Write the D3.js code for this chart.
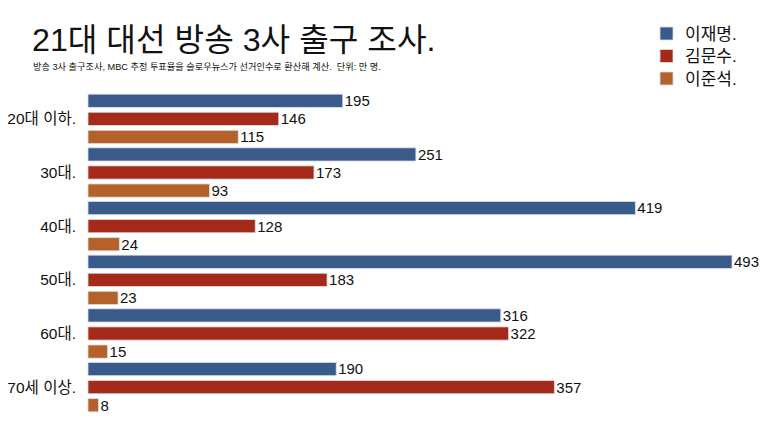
<!DOCTYPE html>
<html><head><meta charset="utf-8">
<script src="https://cdn.jsdelivr.net/npm/d3@7"></script>
<style>
body{margin:0;background:#fff;}
svg text{font-family:"Liberation Sans","Noto Sans CJK KR",sans-serif;fill:#111;white-space:pre;}
</style></head>
<body><svg id="c" width="768" height="432"></svg>
<script>
const categories = ["20대 이하.", "30대.", "40대.", "50대.", "60대.", "70세 이상."];
const seriesNames = ["이재명.", "김문수.", "이준석."];
const leeJaeMyung = [195, 251, 419, 493, 316, 190];
const kimMoonSoo = [146, 173, 128, 183, 322, 357];
const leeJunSeok = [115, 93, 24, 23, 15, 8];
const colors = ["#3a5a8c", "#a52a1a", "#b5622a"];
const title = "21대 대선 방송 3사 출구 조사.";
const subtitle = "방송 3사 출구조사, MBC 추정 투표율을 슬로우뉴스가 선거인수로 환산해 계산.  단위: 만 명.";

const series = [leeJaeMyung, kimMoonSoo, leeJunSeok];
const svg = d3.select("#c");

svg.append("text").attr("x", 32).attr("y", 51).attr("font-size", 32.2).text(title);
svg.append("text").attr("x", 33).attr("y", 70).attr("font-size", 9.2).text(subtitle);

const x = d3.scaleLinear().domain([0, 493]).range([88, 732]);
const y0 = d3.scaleBand().domain(categories).range([92, 414]).paddingInner(0.0).paddingOuter(0);
const y1 = d3.scaleBand().domain(seriesNames).range([0, y0.bandwidth()]).paddingInner(0.27).paddingOuter(0.12);

const g = svg.append("g");
categories.forEach((c, i) => {
  const gg = g.append("g").attr("transform", `translate(0,${y0(c)})`);
  seriesNames.forEach((s, j) => {
    const v = series[j][i];
    gg.append("rect")
      .attr("x", x(0)).attr("y", y1(s))
      .attr("width", x(v) - x(0)).attr("height", y1.bandwidth())
      .attr("fill", colors[j]).attr("stroke", "#d8dde6").attr("stroke-width", 0.8);
    gg.append("text")
      .attr("x", x(v) + 2).attr("y", y1(s) + y1.bandwidth() / 2)
      .attr("dy", "0.36em").attr("font-size", 15).text(v);
  });
  gg.append("text").attr("x", 76).attr("y", y1(seriesNames[1]) + y1.bandwidth() / 2)
    .attr("dy", "0.36em").attr("text-anchor", "end").attr("font-size", 15.5).text(c);
});

const lg = svg.append("g");
seriesNames.forEach((s, j) => {
  lg.append("rect").attr("x", 660).attr("y", 27 + j * 22.5).attr("width", 13).attr("height", 13)
    .attr("fill", colors[j]).attr("stroke", "#d8dde6").attr("stroke-width", 0.8);
  lg.append("text").attr("x", 685).attr("y", 33.5 + j * 22.5).attr("dy", "0.36em")
    .attr("font-size", 17).text(s);
});
</script></body></html>
